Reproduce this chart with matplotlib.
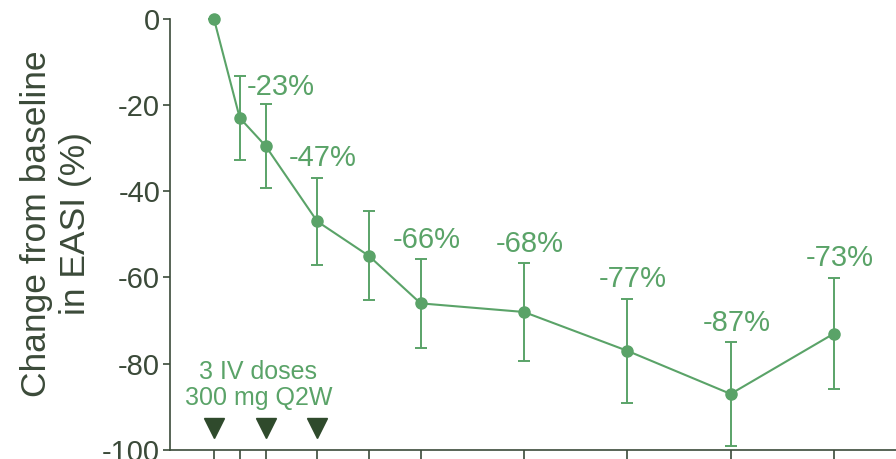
import numpy as np
import matplotlib.pyplot as plt

plt.rcParams['font.family'] = ['Liberation Sans', 'DejaVu Sans']
plt.rcParams['axes.unicode_minus'] = False

# EASI % change from baseline by study week (mean +/- SE)
weeks = [0, 1, 2, 4, 6, 8, 12, 16, 20, 24]
change = [0, -23, -29.5, -47, -55, -66, -68, -77, -87, -73]
err = [0, 9.8, 9.7, 10.1, 10.3, 10.3, 11.3, 12.1, 12.0, 12.9]
labels = ['', '-23%', '', '-47%', '', '-66%', '-68%', '-77%', '-87%', '-73%']
dose_weeks = [0, 2, 4]
dose_text = '3 IV doses\n300 mg Q2W'

green = '#5aa368'
dark = '#3b4a39'

fig = plt.figure(figsize=(8.96, 4.59), dpi=100)
ax = fig.add_axes([0.1897, 0.0196, 0.8103, 0.9397])

ax.errorbar(weeks, change, yerr=err, color=green, lw=1.5, elinewidth=1.4,
            capsize=4.5, capthick=1.4, marker='o', ms=8, clip_on=False, zorder=3)

# value labels sit just above the upper error cap
for w, c, e, lab in zip(weeks, change, err, labels):
    if not lab:
        continue
    if w == 1:
        # first label goes beside the cap, not above it
        ax.text(w + 1.6, c + e - 2.7, lab, color=green, fontsize=21,
                ha='center', va='center')
    else:
        ax.text(w + 0.22, c + e + 4.5, lab, color=green, fontsize=21,
                ha='center', va='center')

ax.plot(dose_weeks, [-95] * len(dose_weeks), 'v', color='#2f4a2c', ms=14,
        clip_on=False)
ax.text(1.72, -85, dose_text, color=green, fontsize=18, ha='center',
        va='center', linespacing=1.1)

ax.set_xlim(-1.7, 26.4)
ax.set_ylim(-100, 0)
ax.set_yticks(np.arange(-100, 1, 20))
ax.set_xticks(weeks)
ax.set_xticklabels([])
ax.tick_params(axis='y', colors=dark, labelsize=21, length=5, width=1.2, pad=2)
ax.tick_params(axis='x', colors=dark, length=8, width=1.2, direction='out')
for s in ['top', 'right']:
    ax.spines[s].set_visible(False)
for s in ['left', 'bottom']:
    ax.spines[s].set_color(dark)
    ax.spines[s].set_linewidth(1.2)

ax.set_ylabel('Change from baseline\nin EASI (%)', color=dark, fontsize=25.5,
              linespacing=1.2)
ax.yaxis.set_label_coords(-0.108, 0.525)

fig.savefig('out.png', dpi=100)
